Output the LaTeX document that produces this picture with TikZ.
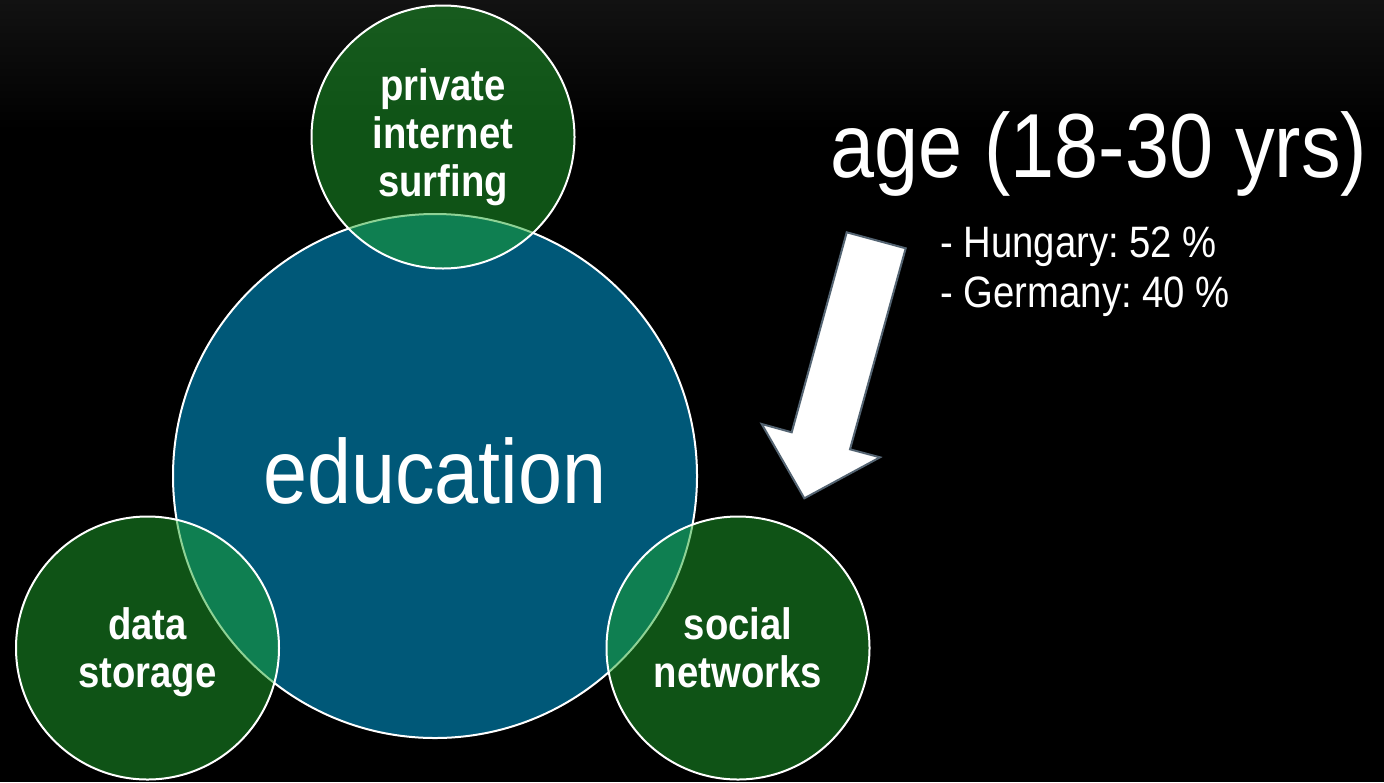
\documentclass[tikz,border=0pt]{standalone}
\usepackage{fontspec}
\setmainfont{Liberation Sans}[FakeStretch=0.87]
\frenchspacing
\usetikzlibrary{positioning}
\definecolor{edublue}{RGB}{0,88,120}
\definecolor{topicgreen}{RGB}{30,166,44}
\definecolor{arrowedge}{RGB}{84,100,114}
\definecolor{topgray}{RGB}{18,18,18}

\begin{document}
\begin{tikzpicture}[
  x=0.5pt, y=-0.5pt,
  hub/.style={circle, draw=white, line width=1pt, fill=edublue, minimum size=262pt,
              inner sep=0pt, text=white, text depth=5.6pt,
              font=\fontsize{45.5}{50}\selectfont},
  topic/.style={circle, draw=white, line width=1pt, fill=topicgreen, fill opacity=0.5,
                text opacity=1, minimum size=131.5pt, inner sep=0pt, align=center,
                text=white, font=\bfseries\fontsize{22}{24}\selectfont},
  headline/.style={anchor=base west, inner sep=0pt, text=white,
                   font=\fontsize{45.5}{50}\selectfont},
  stat/.style={anchor=base west, inner sep=0pt, text=white, text height=16pt,
               text depth=5pt, font=\fontsize{22}{25}\selectfont},
  blockarrow/.style={fill=white, draw=arrowedge, line width=1pt, line join=miter}
]
  % background
  \fill[black] (0,0) rectangle (1384,782);
  \shade[top color=topgray, bottom color=black] (0,0) rectangle (1384,130);
  \useasboundingbox (0,0) rectangle (1384,782);

  % circles
  \node[hub] (edu) at (435,476) {education};
  \node[topic] (surf) at (443,137) {private\\internet\\surfing};
  \node[topic, text depth=0pt] (store) at (147.5,648) {data\\storage};
  \node[topic] (social) at (738,648) {social\\networks};

  % headline and figures
  \node[headline] (age) at (830,177) {age (18-30 yrs)};
  \node[stat] (hu) at (940,257) {- Hungary: 52 \%};
  \node[stat, below right=4pt and 0pt of hu.south west] (de) {- Germany: 40 \%};

  % block arrow
  \draw[blockarrow] (846.7,232.3) -- (905.7,248.3) -- (850,449.3) -- (880,457.3)
    -- (804.3,498.3) -- (761.7,424) -- (791.7,432.3) -- cycle;
\end{tikzpicture}
\end{document}
